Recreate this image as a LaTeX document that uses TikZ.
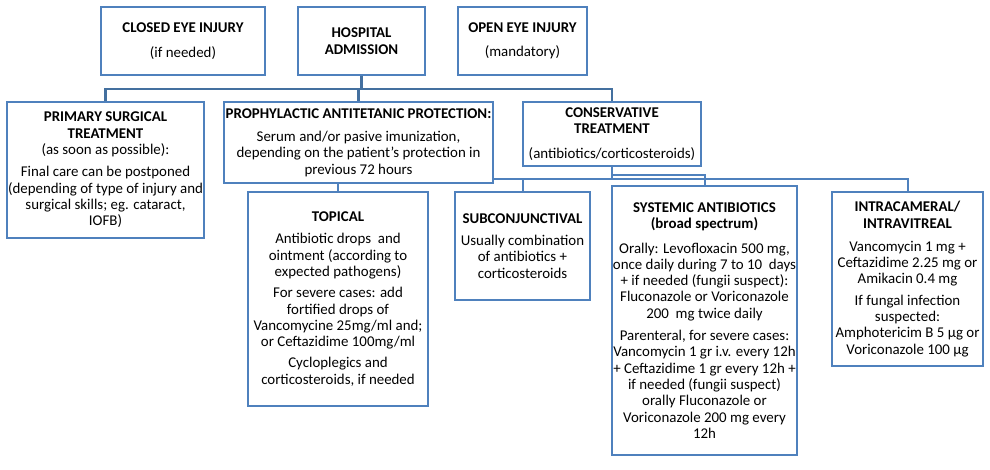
\documentclass[tikz,border=0pt]{standalone}
\usepackage{fontspec}
\setmainfont{Carlito}
\usetikzlibrary{calc}
\definecolor{boxblue}{HTML}{4F81BD}
\definecolor{busblue}{HTML}{44709F}
\begin{document}
\begin{tikzpicture}[x=1pt,y=-1pt,
  box/.style={draw=boxblue, line width=2.6pt, fill=white, align=center, inner sep=1pt,
    font=\fontsize{14.9}{16.3}\selectfont},
  busline/.style={draw=busblue, line width=2.2pt},
  conn/.style={draw=boxblue, line width=2pt}]
\useasboundingbox (0,0) rectangle (990,469);

% top row
\node[box, minimum width=164pt, minimum height=68pt] (closed) at (183,41)
  {\textbf{CLOSED EYE INJURY}\\[8pt](if needed)};
\node[box, minimum width=127pt, minimum height=68pt] (hosp) at (361.5,41)
  {\textbf{HOSPITAL}\\[1pt]\textbf{ADMISSION}};
\node[box, minimum width=129pt, minimum height=68pt] (open) at (522.5,41)
  {\textbf{OPEN EYE INJURY}\\[8pt](mandatory)};

% second row
\node[box, minimum width=195pt, minimum height=136pt] (prim) at (105.5,170)
  {\textbf{PRIMARY SURGICAL}\\\textbf{TREATMENT}\\(as soon as possible):\\[6pt]Final care can be postponed\\(depending of type of injury and\\surgical skills; eg. cataract,\\IOFB)};
\node[box, minimum width=269pt, minimum height=81pt] (proph) at (358.5,142.5)
  {\textbf{PROPHYLACTIC ANTITETANIC PROTECTION:}\\[7pt]Serum and/or pasive imunization,\\depending on the patient's protection in\\previous 72 hours};
\node[box, minimum width=178pt, minimum height=64pt] (cons) at (612,134)
  {\textbf{CONSERVATIVE}\\\textbf{TREATMENT}\\[8pt](antibiotics/corticosteroids)};

% third row
\node[box, minimum width=180pt, minimum height=214pt] (topical) at (338,299)
  {\textbf{TOPICAL}\\[6pt]Antibiotic drops\ \ and\\ointment (according to\\expected pathogens)\\[5pt]For severe cases: add\\fortified drops of\\Vancomycine 25mg/ml and;\\or Ceftazidime 100mg/ml\\[5pt]Cycloplegics and\\corticosteroids, if needed};
\node[box, minimum width=135pt, minimum height=108pt] (sub) at (522.5,246)
  {\textbf{SUBCONJUNCTIVAL}\\[6pt]Usually combination\\of antibiotics +\\corticosteroids};
\node[box, minimum width=185pt, minimum height=269pt] (sys) at (704.5,320.5)
  {\textbf{SYSTEMIC ANTIBIOTICS}\\\textbf{(broad spectrum)}\\[8pt]Orally: Levofloxacin 500 mg,\\once daily during 7 to 10\ \ days\\+ if needed (fungii suspect):\\Fluconazole or Voriconazole\\200\ \ mg twice daily\\[6pt]Parenteral, for severe cases:\\Vancomycin 1 gr i.v. every 12h\\+ Ceftazidime 1 gr every 12h +\\if needed (fungii suspect)\\orally Fluconazole or\\Voriconazole 200 mg every\\12h};
\node[box, minimum width=151pt, minimum height=174pt] (intra) at (907.5,279)
  {\textbf{INTRACAMERAL/}\\\textbf{INTRAVITREAL}\\[7pt]Vancomycin 1 mg +\\Ceftazidime 2.25 mg or\\Amikacin 0.4 mg\\[5pt]If fungal infection\\suspected:\\Amphotericim B 5 µg or\\Voriconazole 100 µg};

% connectors
\coordinate (busA) at (0,89);
\coordinate (busB) at (0,179);
\coordinate (busC) at (0,175);
\draw[busline] (hosp.south) -- (hosp.south |- busA);
\draw[busline] (prim.north) -- (prim.north |- busA) -- (cons.north |- busA) -- (cons.north);
\draw[busline] (proph.north) -- (proph.north |- busA);
\draw[conn] (proph.south -| topical.north) -- (topical.north);
\draw[conn] (proph.east |- busB) -- (intra.north |- busB) -- (intra.north);
\draw[conn] (sub.north) -- (sub.north |- busB);
\draw[conn] (cons.south) -- (cons.south |- busB);
\draw[conn] (cons.south |- busC) -- (sys.north |- busC) -- (sys.north);
\end{tikzpicture}
\end{document}
